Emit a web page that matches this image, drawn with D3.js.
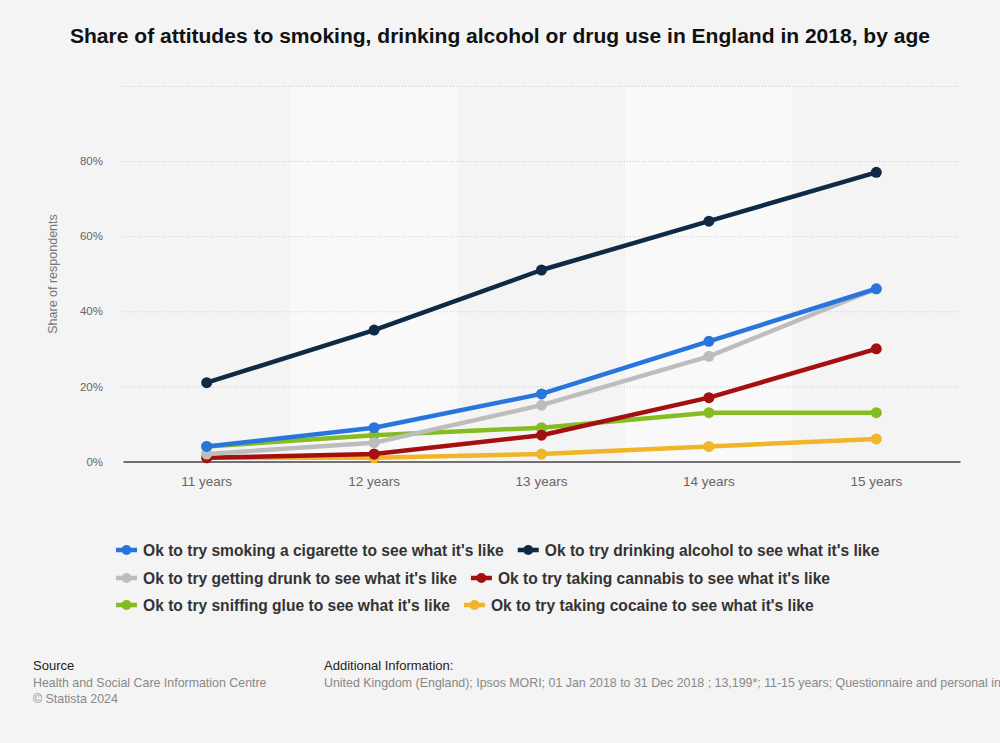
<!DOCTYPE html>
<html><head><meta charset="utf-8">
<script src="https://cdn.jsdelivr.net/npm/d3@7"></script>
<style>
body{margin:0;background:#f4f4f4;}
svg{display:block;font-family:"Liberation Sans",Arial,sans-serif;}
</style></head><body>
<svg id="c" width="1000" height="743"></svg>
<script>
const categories = ["11 years","12 years","13 years","14 years","15 years"];
const seriesNames = [
  "Ok to try smoking a cigarette to see what it's like",
  "Ok to try drinking alcohol to see what it's like",
  "Ok to try getting drunk to see what it's like",
  "Ok to try taking cannabis to see what it's like",
  "Ok to try sniffing glue to see what it's like",
  "Ok to try taking cocaine to see what it's like"
];
const cigarette = [4, 9, 18, 32, 46];
const alcohol   = [21, 35, 51, 64, 77];
const drunk     = [2, 5, 15, 28, 46];
const cannabis  = [1, 2, 7, 17, 30];
const glue      = [4, 7, 9, 13, 13];
const cocaine   = [1, 1, 2, 4, 6];
const yTicks = [0, 20, 40, 60, 80, 100];
const colors = ["#2876dd","#0f2a45","#bdbdbd","#a50f0f","#85bc22","#f0b528"];
const seriesValues = [cigarette, alcohol, drunk, cannabis, glue, cocaine];
// drawing order (bottom to top)
const drawOrder = [5,4,3,2,0,1];

const svg = d3.select("#c");
const L = 123, R = 960, T = 86, B = 461.5;
const x = d3.scaleBand().domain(categories).range([L, R]);
const y = d3.scaleLinear().domain([0, 100]).range([B, T]);

// alternating bands
svg.append("g").selectAll("rect").data(categories).join("rect")
  .attr("x", d => x(d)).attr("y", T).attr("width", x.bandwidth()).attr("height", B - T)
  .attr("fill", (d,i) => i % 2 ? "#f9f9f9" : "#f4f4f4");

// gridlines
svg.append("g").selectAll("line").data(yTicks.filter(v => v > 0)).join("line")
  .attr("x1", L).attr("x2", R).attr("y1", d => y(d) + 0.5).attr("y2", d => y(d) + 0.5)
  .attr("stroke", "#c8c8c8").attr("stroke-dasharray", "1,2").attr("stroke-width", 1);

// y axis labels
const yAxis = d3.axisLeft(y).tickValues(yTicks.filter(v => v < 100)).tickFormat(d => d + "%").tickSize(0).tickPadding(20);
const ya = svg.append("g").attr("transform", `translate(${L},0)`).call(yAxis);
ya.select(".domain").remove();
ya.selectAll("text").attr("fill", "#666").attr("font-size", 11.5).attr("font-family", "Liberation Sans, Arial, sans-serif");

// x axis
const xAxis = d3.axisBottom(x).tickSize(0).tickPadding(15);
const xa = svg.append("g").attr("transform", `translate(0,${B})`).call(xAxis);
xa.select(".domain").attr("stroke", "#444").attr("stroke-width", 1.5);
xa.selectAll("text").attr("fill", "#666").attr("font-size", 13.5).attr("font-family", "Liberation Sans, Arial, sans-serif");

// y axis title
svg.append("text").attr("transform", `translate(57,274) rotate(-90)`)
  .attr("text-anchor", "middle").attr("fill", "#777").attr("font-size", 12.5)
  .text("Share of respondents");

// lines
const line = d3.line().x((d,i) => x(categories[i]) + x.bandwidth()/2).y(d => y(d));
const g = svg.append("g");
drawOrder.forEach(si => {
  g.append("path").datum(seriesValues[si]).attr("d", line)
    .attr("fill", "none").attr("stroke", colors[si]).attr("stroke-width", 4.5)
    .attr("stroke-linejoin", "round");
  g.append("g").selectAll("circle").data(seriesValues[si]).join("circle")
    .attr("cx", (d,i) => x(categories[i]) + x.bandwidth()/2).attr("cy", d => y(d))
    .attr("r", 5.5).attr("fill", colors[si]);
});

// title
svg.append("text").attr("x", 500).attr("y", 43).attr("text-anchor", "middle")
  .attr("font-weight", "bold").attr("font-size", 20).attr("fill", "#111")
  .attr("textLength", 860).attr("lengthAdjust", "spacingAndGlyphs")
  .text("Share of attitudes to smoking, drinking alcohol or drug use in England in 2018, by age");

// legend
const legendRows = [[0,1],[2,3],[4,5]];
const rowY = [550, 578, 605];
const lg = svg.append("g");
legendRows.forEach((row, ri) => {
  let cx = 116;
  row.forEach((si, k) => {
    const item = lg.append("g").attr("transform", `translate(${cx},${rowY[ri]})`);
    item.append("line").attr("x1", 0).attr("x2", 21).attr("y1", 0).attr("y2", 0)
      .attr("stroke", colors[si]).attr("stroke-width", 4.5);
    item.append("circle").attr("cx", 10.5).attr("cy", 0).attr("r", 5).attr("fill", colors[si]);
    const t = item.append("text").attr("x", 27).attr("y", 5.5).attr("font-weight", "bold")
      .attr("font-size", 15.6).attr("fill", "#333").text(seriesNames[si]);
    const w = t.node().getComputedTextLength();
    cx += 27 + w + 14;
  });
});

// footer
svg.append("text").attr("x", 33).attr("y", 670).attr("font-size", 13).attr("fill", "#222").text("Source");
svg.append("text").attr("x", 33).attr("y", 686.5).attr("font-size", 12.4).attr("fill", "#888").text("Health and Social Care Information Centre");
svg.append("text").attr("x", 33).attr("y", 702.5).attr("font-size", 12.4).attr("fill", "#888").text("© Statista 2024");
svg.append("text").attr("x", 324).attr("y", 670).attr("font-size", 13).attr("fill", "#222").text("Additional Information:");
svg.append("text").attr("x", 324).attr("y", 686.5).attr("font-size", 12.4).attr("fill", "#888")
  .text("United Kingdom (England); Ipsos MORI; 01 Jan 2018 to 31 Dec 2018 ; 13,199*; 11-15 years; Questionnaire and personal interview");
</script>
</body></html>
